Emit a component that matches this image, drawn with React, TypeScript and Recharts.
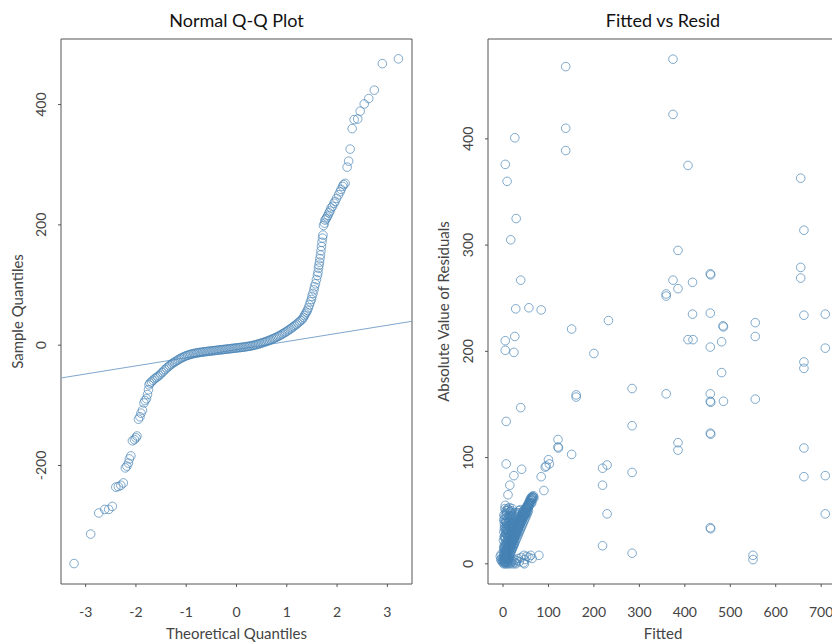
import React from 'react';
import { ScatterChart, Scatter, XAxis, YAxis, ReferenceArea, ReferenceLine } from 'recharts';

const FONT = 'Lato, "Noto Sans", sans-serif';
const BLUE = '#4682b4';

// Normal Q-Q plot: [theoretical quantile, sample quantile]
const qqLowerTail: [number, number][] = [
  [-3.23, -363], [-2.9, -314], [-2.74, -279], [-2.62, -273], [-2.54, -273], [-2.47, -268],
  [-2.4, -236], [-2.35, -235], [-2.3, -233], [-2.25, -229], [-2.21, -204], [-2.18, -201],
  [-2.15, -196], [-2.13, -189], [-2.1, -184], [-2.07, -159], [-2.03, -157], [-2.0, -154],
  [-1.98, -151], [-1.95, -123], [-1.92, -119], [-1.9, -113], [-1.87, -108], [-1.84, -96],
  [-1.82, -92], [-1.79, -89], [-1.77, -82], [-1.75, -74], [-1.74, -66],
];
const qqBody: [number, number][] = [
  [-1.72, -63], [-1.69, -61], [-1.66, -58.5], [-1.63, -56], [-1.6, -54], [-1.57, -52.5],
  [-1.54, -50.5], [-1.51, -48], [-1.48, -45.5], [-1.45, -43], [-1.42, -40.5], [-1.39, -38],
  [-1.36, -36], [-1.33, -34], [-1.3, -32], [-1.27, -30], [-1.24, -28.5], [-1.21, -27],
  [-1.18, -25.3], [-1.15, -23.8], [-1.12, -22.3], [-1.09, -21], [-1.06, -19.8], [-1.03, -18.7],
  [-1.0, -17.6], [-0.97, -16.7], [-0.94, -15.9], [-0.91, -15.1], [-0.88, -14.5], [-0.85, -13.9],
  [-0.82, -13.4], [-0.79, -12.9], [-0.76, -12.5], [-0.73, -12.1], [-0.7, -11.7], [-0.67, -11.4],
  [-0.64, -11.0], [-0.61, -10.7], [-0.58, -10.4], [-0.55, -10.1], [-0.52, -9.8], [-0.49, -9.5],
  [-0.46, -9.2], [-0.43, -8.9], [-0.4, -8.6], [-0.37, -8.3], [-0.34, -8.0], [-0.31, -7.7],
  [-0.28, -7.4], [-0.25, -7.1], [-0.22, -6.8], [-0.19, -6.5], [-0.16, -6.2], [-0.13, -5.9],
  [-0.1, -5.6], [-0.07, -5.3], [-0.04, -5.0], [-0.01, -4.7], [0.02, -4.4], [0.05, -4.1],
  [0.08, -3.8], [0.11, -3.5], [0.14, -3.2], [0.17, -2.8], [0.2, -2.4], [0.23, -2.0],
  [0.26, -1.6], [0.29, -1.1], [0.32, -0.6], [0.35, 0], [0.38, 0.6], [0.41, 1.3],
  [0.44, 2.0], [0.47, 2.8], [0.5, 3.6], [0.53, 4.4], [0.56, 5.2], [0.59, 6.1],
  [0.62, 7.0], [0.65, 8.0], [0.68, 9.0], [0.71, 10.1], [0.74, 11.2], [0.77, 12.3],
  [0.8, 13.5], [0.83, 14.8], [0.86, 16.1], [0.89, 17.5], [0.92, 19.0], [0.95, 20.5],
  [0.98, 22.0], [1.01, 23.6], [1.04, 25.3], [1.07, 27.0], [1.1, 28.8], [1.13, 30.7],
  [1.16, 32.6], [1.19, 34.6], [1.22, 36.7], [1.25, 38.8], [1.28, 41.0], [1.31, 43.3],
];
const qqUpperTail: [number, number][] = [
  [1.33, 46], [1.35, 49], [1.37, 52], [1.39, 55], [1.41, 58], [1.43, 62],
  [1.45, 67], [1.47, 72], [1.49, 76], [1.5, 81], [1.52, 86], [1.54, 92],
  [1.55, 97], [1.57, 102], [1.59, 109], [1.61, 116], [1.62, 121], [1.63, 128],
  [1.64, 133], [1.65, 138], [1.66, 144], [1.67, 150], [1.68, 157], [1.69, 164],
  [1.7, 171], [1.71, 178], [1.72, 183], [1.73, 199], [1.75, 203], [1.76, 208], [1.78, 210],
  [1.8, 213], [1.82, 216], [1.84, 220], [1.86, 223], [1.88, 228], [1.91, 231], [1.94, 236],
  [1.96, 239], [1.99, 244], [2.03, 250], [2.06, 255], [2.08, 259], [2.11, 264], [2.13, 267],
  [2.16, 269], [2.2, 296], [2.23, 306], [2.26, 326], [2.3, 360], [2.34, 375], [2.41, 376],
  [2.46, 389], [2.54, 401], [2.63, 410], [2.74, 424], [2.9, 468], [3.22, 476],
];
const qqLineIntercept = -7.4;
const qqLineSlope = 13.5;
const qqXTicks = [-3, -2, -1, 0, 1, 2, 3];
const qqYTicks = [-200, 0, 200, 400];
const qqXDomain: [number, number] = [-3.49, 3.49];
const qqYDomain: [number, number] = [-397, 509];

// Fitted vs |residual|: [fitted, abs residual]
const frScattered: [number, number][] = [
  [138, 468], [374, 475], [374, 423], [138, 410], [138, 389], [26, 401], [5, 376], [9, 360],
  [407, 375], [655, 363], [29, 325], [662, 314], [17, 305], [385, 295], [39, 267], [374, 267],
  [456, 273], [457, 272], [417, 265], [385, 259], [359, 254], [359, 252], [655, 279], [655, 269],
  [28, 240], [57, 241], [84, 239], [232, 229], [151, 221], [417, 235], [456, 236], [484, 224],
  [485, 223], [555, 227], [662, 234], [709, 235], [5, 210], [26, 214], [5, 201], [24, 199],
  [200, 198], [407, 211], [418, 211], [456, 204], [481, 209], [555, 214], [709, 203], [662, 190],
  [662, 184], [481, 180], [284, 165], [161, 159], [161, 157], [359, 160], [456, 160], [456, 153],
  [457, 152], [485, 153], [555, 155], [39, 147], [7, 134], [284, 130], [121, 117], [121, 110],
  [122, 109], [385, 114], [385, 107], [456, 123], [457, 122], [151, 103], [662, 109], [7, 94],
  [41, 89], [100, 98], [102, 94], [95, 92], [93, 91], [84, 82], [24, 83], [15, 74], [11, 65],
  [90, 69], [219, 90], [229, 93], [284, 86], [219, 74], [662, 82], [709, 83], [229, 47],
  [709, 47], [456, 34], [457, 33], [219, 17], [284, 10], [550, 8], [550, 4],
];
const frCluster: [number, number][] = [
  [-6, 7], [-5, 4], [-4, 9], [-3, 5], [-2, 2], [0, 1], [1, 3], [2, 0], [3, 6], [4, 1], [5, 2],
  [6, 0], [7, 4], [8, 1], [9, 3], [10, 0], [11, 2], [12, 5], [13, 1], [14, 3], [15, 0], [16, 2],
  [18, 1], [20, 3], [22, 0], [24, 2], [26, 4], [28, 1], [30, 3], [33, 5], [36, 2], [40, 6],
  [45, 1], [46, 8], [48, 4], [52, 7], [57, 6], [61, 8], [64, 5], [79, 8], [28, 0], [47, 0],
  [1, 10], [2, 14], [3, 18], [1, 22], [4, 26], [2, 30], [5, 34], [3, 38], [4, 42], [2, 46],
  [6, 50], [5, 55], [3, 12], [5, 16], [6, 20], [4, 24], [7, 28], [6, 32], [8, 36], [7, 40],
  [9, 44], [8, 48], [10, 52], [12, 51], [14, 53], [16, 49], [18, 50], [20, 52], [35, 50],
  [38, 51], [27, 48],
  [6, 5], [8, 8], [10, 9], [12, 12], [14, 13], [16, 16], [18, 17], [20, 20], [22, 21], [24, 24],
  [26, 25], [28, 28], [30, 29], [32, 32], [34, 33], [36, 36], [38, 37], [40, 40], [42, 41],
  [44, 44], [46, 45], [48, 48], [50, 49], [52, 52], [54, 53], [56, 56], [58, 57], [60, 59],
  [62, 60], [64, 62], [66, 63], [67, 64], [65, 60], [68, 62], [63, 57],
  [6, 12], [8, 15], [10, 18], [12, 20], [14, 23], [16, 26], [18, 28], [20, 31], [22, 33],
  [24, 36], [26, 38], [28, 40], [30, 42], [32, 44], [34, 46], [36, 48], [10, 25], [12, 29],
  [14, 33], [16, 36], [18, 40], [20, 43], [22, 45], [9, 30], [11, 36], [13, 40], [15, 44], [17, 47],
  [10, 4], [12, 6], [14, 8], [16, 10], [18, 12], [20, 14], [22, 16], [24, 18], [26, 20], [28, 22],
  [30, 24], [32, 26], [34, 28], [36, 30], [38, 32], [40, 34], [42, 36], [44, 38], [46, 40],
  [48, 42], [50, 44], [52, 46], [54, 48], [56, 50],
  [3, 8], [5, 10], [7, 12], [9, 14], [11, 16], [13, 18], [15, 20], [17, 22], [19, 24], [21, 26],
  [23, 28], [25, 30], [27, 32], [29, 34], [31, 36], [33, 38], [35, 40], [37, 42], [39, 44],
  [41, 46], [43, 48], [45, 50], [7, 8], [9, 10], [11, 12], [13, 14], [15, 16], [17, 18],
  [19, 20], [21, 22], [23, 24], [25, 26], [27, 28], [29, 30], [31, 32], [33, 34], [35, 36],
  [37, 38], [39, 40], [41, 42], [43, 44], [45, 46], [47, 47], [49, 49], [51, 51], [53, 53],
  [55, 54], [57, 56], [59, 58], [61, 60], [63, 61], [65, 62], [4, 5], [6, 7], [8, 10], [2, 6],
  [3, 3], [5, 8], [7, 2], [9, 6], [11, 5], [13, 7], [15, 9], [17, 11], [19, 13], [21, 15],
  [23, 17], [25, 19], [4, 16], [6, 24], [8, 28], [10, 32], [12, 36], [14, 39], [16, 42],
  [18, 45], [7, 18], [9, 22], [11, 26], [13, 30], [15, 34], [17, 38], [19, 36], [21, 38],
  [23, 40], [25, 42], [27, 44], [29, 46], [31, 48], [3, 33], [5, 40], [7, 46], [9, 50], [4, 52],
  [2.5, 4.5], [4.5, 7.5], [6.5, 9.5], [8.5, 12.5], [10.5, 14.5], [12.5, 16.5], [14.5, 18.5],
  [16.5, 20.5], [18.5, 22.5], [20.5, 24.5], [22.5, 26.5], [24.5, 28.5], [26.5, 30.5], [28.5, 32.5],
  [30.5, 34.5], [32.5, 36.5], [34.5, 38.5], [36.5, 40.5], [38.5, 42.5], [40.5, 44.5], [42.5, 46.5],
  [44.5, 48.5], [46.5, 50.5], [48.5, 51.5], [50.5, 52.5], [52.5, 54.5], [54.5, 55.5], [56.5, 57.5],
  [58.5, 59.5], [60.5, 61.5], [62.5, 62.5], [64.5, 63.5], [3.5, 1.5], [5.5, 4.5], [7.5, 6.5],
  [9.5, 8.5], [11.5, 10.5], [13.5, 12.5], [15.5, 14.5], [17.5, 16.5], [19.5, 18.5], [21.5, 20.5],
  [23.5, 22.5], [25.5, 24.5], [27.5, 26.5], [29.5, 28.5], [31.5, 30.5], [33.5, 32.5], [35.5, 34.5],
  [37.5, 36.5], [39.5, 38.5], [41.5, 40.5], [43.5, 42.5], [45.5, 44.5], [47.5, 45.5], [49.5, 46.5],
  [51.5, 48.5], [53.5, 50.5], [55.5, 52.5], [57.5, 54.5], [59.5, 56.5], [61.5, 57.5], [1.5, 15.5],
  [2.5, 25.5], [3.5, 35.5], [1.5, 41.5], [4.5, 45.5], [6.5, 38.5], [8.5, 31.5], [10.5, 21.5],
  [12.5, 24.5], [14.5, 27.5], [16.5, 30.5], [18.5, 33.5], [20.5, 35.5], [22.5, 37.5], [24.5, 39.5],
  [5.5, 28.5], [7.5, 33.5], [9.5, 38.5], [11.5, 42.5], [13.5, 45.5], [15.5, 48.5], [0.5, 5.5],
  [1.5, 8.5], [-1.5, 3.5], [4.5, 12.5], [6.5, 16.5], [8.5, 19.5],
];
const frXTicks = [0, 100, 200, 300, 400, 500, 600, 700];
const frYTicks = [0, 100, 200, 300, 400];
const frXDomain: [number, number] = [-33, 737];
const frYDomain: [number, number] = [-19, 494];

const toObj = (arr: [number, number][]) => arr.map(([x, y]) => ({ x, y }));
const qqData = toObj([...qqLowerTail, ...qqBody, ...qqUpperTail]);
const frData = toObj([...frScattered, ...frCluster]);

const Ring = (p: any) => (
  <circle cx={p.cx} cy={p.cy} r={4.3} fill="none" stroke={BLUE} strokeOpacity={0.68} strokeWidth={1} />
);

const YTick = (p: any) => {
  const x = p.x - 11.5;
  const y = p.y;
  return (
    <text x={x} y={y} transform={`rotate(-90 ${x} ${y})`} textAnchor="middle" fill="#444" fontSize={14} fontFamily={FONT}>
      {p.payload.value}
    </text>
  );
};
const XTick = (p: any) => (
  <text x={p.x} y={p.y + 28} textAnchor="middle" fill="#444" fontSize={14} fontFamily={FONT}>
    {p.payload.value}
  </text>
);

function Panel(props: {
  data: { x: number; y: number }[];
  xDomain: [number, number];
  yDomain: [number, number];
  xTicks: number[];
  yTicks: number[];
  width: number;
  yAxisWidth: number;
  right: number;
  children?: React.ReactNode;
}) {
  const { data, xDomain, yDomain, xTicks, yTicks, width, yAxisWidth, right } = props;
  return (
    <ScatterChart width={width} height={642} margin={{ top: 39, right, bottom: 0, left: 0 }}>
      <XAxis
        type="number"
        dataKey="x"
        domain={xDomain}
        allowDataOverflow
        ticks={xTicks}
        interval={0}
        axisLine={false}
        tickSize={3}
        tickLine={{ stroke: '#555' }}
        tick={<XTick />}
        height={58}
      />
      <YAxis
        type="number"
        dataKey="y"
        domain={yDomain}
        allowDataOverflow
        ticks={yTicks}
        interval={0}
        axisLine={false}
        tickSize={3}
        tickMargin={0}
        tickLine={{ stroke: '#555' }}
        tick={<YTick />}
        width={yAxisWidth}
      />
      <ReferenceArea
        x1={xDomain[0]}
        x2={xDomain[1]}
        y1={yDomain[0]}
        y2={yDomain[1]}
        fill="none"
        stroke="#555"
        strokeWidth={1}
        ifOverflow="visible"
      />
      {props.children}
      <Scatter data={data} shape={<Ring />} isAnimationActive={false} />
    </ScatterChart>
  );
}

export default function App() {
  const lineY0 = qqLineIntercept + qqLineSlope * qqXDomain[0];
  const lineY1 = qqLineIntercept + qqLineSlope * qqXDomain[1];
  const labelStyle = { fontFamily: FONT, fontSize: 15, fill: '#444' } as any;
  const titleStyle = { fontFamily: FONT, fontSize: 18, fill: '#111' } as any;
  return (
    <div style={{ position: 'fixed', left: 0, top: 0, width: 832, height: 642, overflow: 'hidden', background: '#fff' }}>
      <div style={{ position: 'absolute', left: 0, top: 0 }}>
        <Panel
          data={qqData}
          xDomain={qqXDomain}
          yDomain={qqYDomain}
          xTicks={qqXTicks}
          yTicks={qqYTicks}
          width={420}
          yAxisWidth={61}
          right={8}
        >
          <ReferenceLine
            segment={[{ x: qqXDomain[0], y: lineY0 }, { x: qqXDomain[1], y: lineY1 }]}
            stroke="#7fa6cc"
            strokeWidth={1}
            ifOverflow="visible"
          />
        </Panel>
      </div>
      <div style={{ position: 'absolute', left: 420, top: 0 }}>
        <Panel
          data={frData}
          xDomain={frXDomain}
          yDomain={frYDomain}
          xTicks={frXTicks}
          yTicks={frYTicks}
          width={430}
          yAxisWidth={68}
          right={12}
        />
      </div>
      <svg width={832} height={642} style={{ position: 'absolute', left: 0, top: 0, pointerEvents: 'none' }}>
        <text x={236.5} y={26.5} textAnchor="middle" style={titleStyle}>Normal Q-Q Plot</text>
        <text x={663} y={26.5} textAnchor="middle" style={titleStyle}>Fitted vs Resid</text>
        <text x={236.5} y={638.5} textAnchor="middle" style={labelStyle}>Theoretical Quantiles</text>
        <text x={663} y={638.5} textAnchor="middle" style={labelStyle}>Fitted</text>
        <text x={23} y={311.5} textAnchor="middle" transform="rotate(-90 23 311.5)" style={labelStyle}>Sample Quantiles</text>
        <text x={449} y={311.5} textAnchor="middle" transform="rotate(-90 449 311.5)" style={labelStyle}>Absolute Value of Residuals</text>
      </svg>
    </div>
  );
}
